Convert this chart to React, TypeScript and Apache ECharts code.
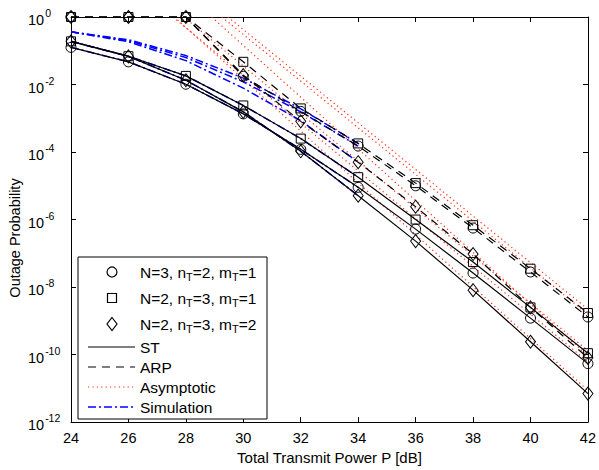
import React, { useEffect, useRef } from 'react';
import * as echarts from 'echarts';

// ---- data ----
const powerDb = [24, 26, 28, 30, 32, 34, 36, 38, 40, 42];
const simPowerDb = [24, 26, 28, 30, 32, 34];

// ST (solid)
const stCircle = [0.126, 0.047, 0.0102, 1.35e-3, 1.2e-4, 9e-6, 5.2e-7, 2.6e-8, 1.2e-9, 5.4e-11];
const stSquare = [0.19, 0.069, 0.018, 2.4e-3, 2.5e-4, 1.8e-5, 1.0e-6, 5.5e-8, 2.5e-9, 1.1e-10];
const stDiamond = [0.19, 0.068, 0.0134, 1.55e-3, 1.05e-4, 5.1e-6, 2.3e-7, 8.1e-9, 2.4e-10, 7e-12];

// ARP (dashed)
const arpCircle = [1, 1, 1, 0.0175, 1.6e-3, 1.5e-4, 1.0e-5, 5.6e-7, 2.8e-8, 1.3e-9];
const arpSquare = [1, 1, 1, 0.047, 1.96e-3, 1.8e-4, 1.2e-5, 6.8e-7, 3.5e-8, 1.7e-9];
const arpDiamond = [1, 1, 1, 0.019, 8.1e-4, 5e-5, 2.4e-6, 9.5e-8, 2.5e-9, 8e-11];

// Simulation (dash-dot, blue)
const simArpSquare = [0.363, 0.212, 0.072, 0.0155, 1.9e-3, 1.8e-4];
const simArpCircle = [0.363, 0.199, 0.063, 0.012, 1.55e-3, 1.5e-4];
const simArpDiamond = [0.363, 0.185, 0.051, 0.0078, 8.5e-4, 5e-5];
const simStCircle = [0.126, 0.047, 0.0102, 1.35e-3, 1.2e-4, 9e-6];
const simStSquare = [0.19, 0.069, 0.018, 2.4e-3, 2.5e-4, 1.8e-5];
const simStDiamond = [0.19, 0.068, 0.0134, 1.55e-3, 1.05e-4, 5.1e-6];

// Asymptotic (dotted, red): [power dB, probability] end points
const asymStDiamond = [[27.6, 1], [42, 8.7e-12]];
const asymStCircle = [[27.55, 1], [42, 6.1e-11]];
const asymStSquare = [[27.93, 1], [42, 1.3e-10]];
const asymArpDiamond = [[28.9, 1], [42, 9.2e-11]];
const asymArpCircle = [[29.25, 1], [42, 1.55e-9]];
const asymArpSquare = [[29.46, 1], [42, 2.2e-9]];

const xTicks = { min: 24, max: 42, step: 2 };
const yExpTicks = { min: -12, max: 0, step: 2 };

const legendLabels = [
  ['N=3, n', '=2, m', '=1'],
  ['N=2, n', '=3, m', '=1'],
  ['N=2, n', '=3, m', '=2'],
];
const lineLegendLabels = ['ST', 'ARP', 'Asymptotic', 'Simulation'];

const FONT = 'Liberation Sans, Arial, Helvetica, sans-serif';

const toPts = (xs: number[], ys: number[]) => xs.map((x, i) => [x, Math.log10(ys[i])]);
const toPairs = (p: number[][]) => p.map(([x, y]) => [x, Math.log10(y)]);

export default function App() {
  const ref = useRef<HTMLDivElement>(null);
  useEffect(() => {
    if (!ref.current) return;
    const chart = echarts.init(ref.current, undefined, { renderer: 'svg' });

    const hollow = { color: 'rgba(0,0,0,0)', borderColor: '#000', borderWidth: 1 };
    const markerLine = (name: string, data: number[], symbol: string, size: any, dashed: boolean) => ({
      type: 'line', name, data: toPts(powerDb, data), symbol, symbolSize: size,
      showSymbol: true, showAllSymbol: true, clip: false, z: 5,
      itemStyle: hollow,
      lineStyle: { color: '#000', width: 1.2, type: dashed ? [8, 6] : 'solid' },
      emphasis: { disabled: true },
    });
    const simLine = (name: string, xs: number[], data: number[], z: number) => ({
      type: 'line', name, data: toPts(xs, data), symbol: 'none', z,
      lineStyle: { color: '#0000ff', width: 1.5, type: [8, 3, 2, 3] },
      emphasis: { disabled: true },
    });
    const asymLine = (name: string, pairs: number[][]) => ({
      type: 'line', name, data: toPairs(pairs), symbol: 'none', z: 2, clip: true,
      lineStyle: { color: '#ff2a10', width: 1.2, type: [1.2, 3.2] },
      emphasis: { disabled: true },
    });

    const supLabel = (v: number) => `{b|10}{s|${v}}`;

    const subText = (parts: string[]) => `{n|${parts[0]}}{t|T}{n|${parts[1]}}{t|T}{n|${parts[2]}}`;

    const legendX = 78, legendY = 257, legendW = 189, legendH = 162;
    const rowsY = [272, 298, 324, 347, 367, 387, 407];
    const graphics: any[] = [
      {
        type: 'rect', z: 100,
        shape: { x: legendX, y: legendY, width: legendW, height: legendH },
        style: { fill: '#fff', stroke: '#000', lineWidth: 1 },
      },
      { type: 'circle', z: 101, shape: { cx: 112, cy: rowsY[0], r: 5 }, style: { fill: 'none', stroke: '#000', lineWidth: 1.2 } },
      { type: 'rect', z: 101, shape: { x: 107.5, y: rowsY[1] - 4.5, width: 9, height: 9 }, style: { fill: 'none', stroke: '#000', lineWidth: 1.2 } },
      {
        type: 'polygon', z: 101,
        shape: { points: [[112, rowsY[2] - 6.5], [117, rowsY[2]], [112, rowsY[2] + 6.5], [107, rowsY[2]]] },
        style: { fill: 'none', stroke: '#000', lineWidth: 1.2 },
      },
      ...legendLabels.map((parts, i) => ({
        type: 'text', z: 101, x: 140, y: rowsY[i],
        style: {
          text: subText(parts), verticalAlign: 'middle', fill: '#000',
          rich: {
            n: { fontSize: 15.5, fontFamily: FONT, fill: '#000' },
            t: { fontSize: 11, fontFamily: FONT, fill: '#000', padding: [10, 0, 0, 0] },
          },
        },
      })),
      { type: 'line', z: 101, shape: { x1: 88, y1: rowsY[3], x2: 135, y2: rowsY[3] }, style: { stroke: '#000', lineWidth: 1.2 } },
      { type: 'line', z: 101, shape: { x1: 88, y1: rowsY[4], x2: 135, y2: rowsY[4] }, style: { stroke: '#000', lineWidth: 1.2, lineDash: [8, 6] } },
      { type: 'line', z: 101, shape: { x1: 88, y1: rowsY[5], x2: 135, y2: rowsY[5] }, style: { stroke: '#ff2a10', lineWidth: 1.2, lineDash: [1.2, 3.2] } },
      { type: 'line', z: 101, shape: { x1: 88, y1: rowsY[6], x2: 135, y2: rowsY[6] }, style: { stroke: '#0000ff', lineWidth: 1.4, lineDash: [8, 3, 2, 3] } },
      ...lineLegendLabels.map((t, i) => ({
        type: 'text', z: 101, x: 140, y: rowsY[3 + i],
        style: { text: t, verticalAlign: 'middle', fill: '#000', fontSize: 15.5, fontFamily: FONT },
      })),
      {
        type: 'text', z: 101, x: 15, y: 238, rotation: Math.PI / 2,
        style: { text: 'Outage Probability', align: 'center', verticalAlign: 'middle', fill: '#000', fontSize: 14.5, fontFamily: FONT },
      },
    ];

    const axisCommon = {
      axisLine: { show: true, onZero: false, lineStyle: { color: '#000', width: 1 } },
      axisTick: { show: true, inside: true, length: 5, lineStyle: { color: '#000', width: 1 } },
      splitLine: { show: false },
    };

    chart.setOption({
      animation: false,
      backgroundColor: '#fff',
      textStyle: { fontFamily: FONT },
      grid: { left: 71, right: 10, top: 17, bottom: 43, containLabel: false },
      xAxis: [
        {
          ...axisCommon, type: 'value', position: 'bottom', min: xTicks.min, max: xTicks.max, interval: xTicks.step,
          axisLabel: { color: '#000', fontSize: 14.5, fontFamily: FONT, margin: 8 },
          name: 'Total Transmit Power P [dB]', nameLocation: 'middle', nameGap: 24,
          nameTextStyle: { color: '#000', fontSize: 15, fontFamily: FONT },
        },
        {
          ...axisCommon, type: 'value', position: 'top', min: xTicks.min, max: xTicks.max, interval: xTicks.step,
          axisLabel: { show: false },
        },
      ],
      yAxis: [
        {
          ...axisCommon, type: 'value', position: 'left', min: yExpTicks.min, max: yExpTicks.max, interval: yExpTicks.step,
          axisLabel: {
            color: '#000', margin: 43, align: 'left', formatter: supLabel,
            rich: {
              b: { fontSize: 14.5, fontFamily: FONT, color: '#000', padding: [6, 0, 0, 0] },
              s: { fontSize: 10.5, fontFamily: FONT, color: '#000', padding: [0, 0, 8, 1] },
            },
          },
        },
        {
          ...axisCommon, type: 'value', position: 'right', min: yExpTicks.min, max: yExpTicks.max, interval: yExpTicks.step,
          axisLabel: { show: false },
        },
      ],
      series: [
        asymLine('Asym ST circle', asymStCircle),
        asymLine('Asym ST square', asymStSquare),
        asymLine('Asym ST diamond', asymStDiamond),
        asymLine('Asym ARP circle', asymArpCircle),
        asymLine('Asym ARP square', asymArpSquare),
        asymLine('Asym ARP diamond', asymArpDiamond),
        simLine('Sim ST circle', simPowerDb, simStCircle, 3),
        simLine('Sim ST square', simPowerDb, simStSquare, 3),
        simLine('Sim ST diamond', simPowerDb, simStDiamond, 3),
        simLine('Sim ARP circle', simPowerDb, simArpCircle, 4),
        simLine('Sim ARP square', simPowerDb, simArpSquare, 4),
        simLine('Sim ARP diamond', simPowerDb, simArpDiamond, 4),
        markerLine('ST circle', stCircle, 'circle', 10, false),
        markerLine('ST square', stSquare, 'rect', 9, false),
        markerLine('ST diamond', stDiamond, 'diamond', [10, 13], false),
        markerLine('ARP circle', arpCircle, 'circle', 10, true),
        markerLine('ARP square', arpSquare, 'rect', 9, true),
        markerLine('ARP diamond', arpDiamond, 'diamond', [10, 13], true),
      ],
      graphic: graphics,
    });
    return () => chart.dispose();
  }, []);
  return <div ref={ref} style={{ position: 'fixed', left: 0, top: 0, width: 599, height: 470, background: '#fff' }} />;
}
